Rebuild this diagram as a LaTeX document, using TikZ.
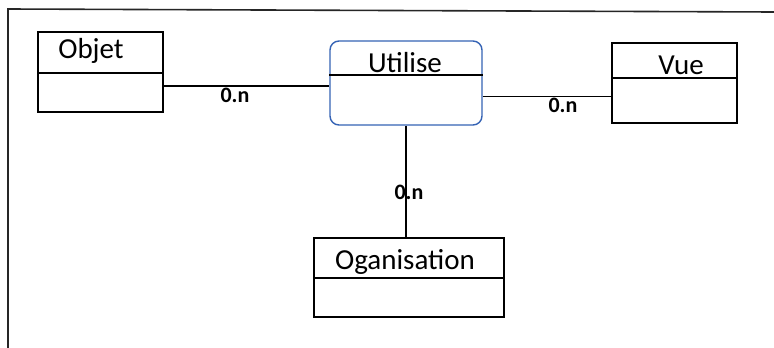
\documentclass[tikz,border=0pt]{standalone}
\usepackage{fontspec}
\setmainfont{Carlito}
\definecolor{assocblue}{HTML}{3563B5}
\begin{document}
\begin{tikzpicture}[x=1pt,y=-1pt,
  entity/.style={draw=black, line width=1.6pt, inner sep=0pt, fill=white},
  assoc/.style={draw=assocblue, line width=1.4pt, rounded corners=9pt, inner sep=0pt, fill=white},
  divider/.style={draw=black, line width=1.7pt},
  title/.style={anchor=base, inner sep=0pt, font=\fontsize{29}{32}\selectfont},
  card/.style={anchor=base, inner sep=0pt, font=\bfseries\fontsize{22}{25}\selectfont},
  conn/.style={draw=black, line width=1.6pt},
  frameline/.style={draw=black!85, line width=1.6pt}]
\useasboundingbox (0,0) rectangle (774,348);
\fill[white] (0,0) rectangle (774,348);

% outer frame (left and top edges)
\draw[frameline] (8,348) -- (8,9) -- (774,12);

% entities and association
\node[entity, minimum width=125pt, minimum height=80pt] (objet) at (100.5,72) {};
\node[assoc, minimum width=152pt, minimum height=84pt] (utilise) at (406,83) {};
\node[entity, minimum width=125pt, minimum height=80pt] (vue) at (674.5,83) {};
\node[entity, minimum width=190pt, minimum height=79pt] (org) at (409,277.5) {};

% compartment dividers
\draw[divider] ([yshift=-1pt]objet.west) -- ([yshift=-1pt]objet.east);
\draw[divider] ([yshift=8pt]utilise.west) -- ([yshift=8pt]utilise.east);
\draw[divider] ([yshift=5pt]vue.west) -- ([yshift=5pt]vue.east);
\draw[divider] ([yshift=-0.5pt]org.west) -- ([yshift=-0.5pt]org.east);

% titles
\node[title] (objetT) at (91,58) {Objet};
\node[title] (utiliseT) at (405,72) {Utilise};
\node[title] (vueT) at (681,74) {Vue};
\node[title] (orgT) at (405,269) {Oganisation};

% connectors
\draw[conn] ([yshift=-14pt]objet.east) -- ([yshift=-3pt]utilise.west);
\draw[conn] ([yshift=-13.5pt]utilise.east) -- ([yshift=-13.5pt]vue.west);
\draw[conn] (utilise.south) -- (utilise.south |- org.north);

% cardinalities
\node[card] (c1) at (235,102) {0.n};
\node[card] (c2) at (563,112) {0.n};
\node[card] (c3) at (409,199) {0.n};
\end{tikzpicture}
\end{document}
